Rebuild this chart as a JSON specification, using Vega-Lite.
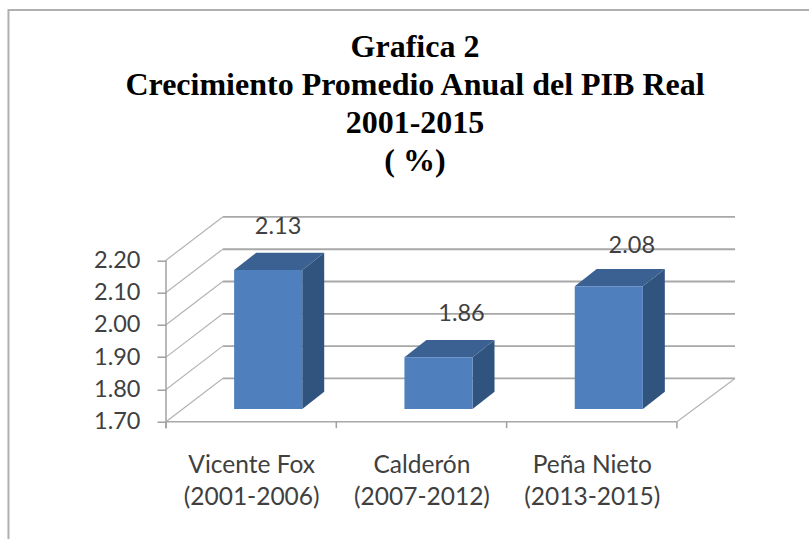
{
"$schema":"https://vega.github.io/schema/vega-lite/v6.json",
"width":569,"height":206,
"autosize":"none",
"padding":{"left":166,"top":215.7,"right":74,"bottom":117.3},
"background":"white",
"view":{"stroke":null},
"resolve":{"axis":{"x":"independent","y":"independent"}},
"title":{"text":["Grafica 2","Crecimiento Promedio Anual del PIB Real","2001-2015","( %)"],"font":"Liberation Serif","fontSize":32,"fontWeight":"bold","color":"#000000","lineHeight":38,"anchor":"middle","frame":"group","dx":-35.5,"offset":-201,"baseline":"bottom"},
"datasets":{
"bars":[{"periodo":"Vicente Fox","rango":"(2001-2006)","idx":0,"valor":2.13},{"periodo":"Calderón","rango":"(2007-2012)","idx":1,"valor":1.86},{"periodo":"Peña Nieto","rango":"(2013-2015)","idx":2,"valor":2.08}],
"grid":[{"valor":1.7},{"valor":1.8},{"valor":1.9},{"valor":2.0},{"valor":2.1},{"valor":2.2}],
"cortes":[{"pos":0},{"pos":1},{"pos":2},{"pos":3}]
},
"layer":[
{"data":{"name":"grid"},"transform":[{"filter":"datum.valor==1.7"}],
 "mark":{"type":"rect","fill":null,"filled":false,"stroke":"#B0B0B0","strokeWidth":2},
 "encoding":{"x":{"datum":-0.925,"type":"quantitative","scale":{"domain":[0,3.341],"nice":false,"zero":false},"axis":null},"x2":{"datum":4.2},
  "y":{"datum":1.2,"type":"quantitative","scale":{"domain":[1.7,2.3378],"nice":false,"zero":false},"axis":null},"y2":{"datum":2.975}}},
{"data":{"name":"grid"},"transform":[{"calculate":"datum.valor+0.134","as":"atras"}],
 "mark":{"type":"rule","color":"#A8A8A8","strokeWidth":1.8},
 "encoding":{"x":{"datum":0.333,"type":"quantitative","scale":{"domain":[0,3.341],"nice":false,"zero":false},
   "axis":{"title":null,"values":[0.5,1.5,2.5],"ticks":false,"domain":false,"grid":false,"labelExpr":"datum.value==0.5?['Vicente Fox','(2001-2006)']:datum.value==1.5?['Calderón','(2007-2012)']:['Peña Nieto','(2013-2015)']","labelFont":"Lato","labelFontSize":24.5,"labelLineHeight":32,"labelColor":"#404040","labelPadding":32,"labelOverlap":false,"labelFlush":false,"labelBound":false,"labelAngle":0}},
  "x2":{"datum":3.341},
  "y":{"field":"atras","type":"quantitative","scale":{"domain":[1.7,2.3378],"nice":false,"zero":false},
   "axis":{"title":null,"values":[1.7,1.8,1.9,2.0,2.1,2.2],"format":".2f","domain":false,"grid":false,"tickSize":9,"tickColor":"#A0A0A0","tickWidth":1.5,"labelFont":"Lato","labelFontSize":23.5,"labelColor":"#404040","labelPadding":17,"labelOverlap":false,"labelFlush":false,"labelBound":false}}}},
{"data":{"name":"grid"},"transform":[{"calculate":"datum.valor+0.134","as":"atras"}],
 "mark":{"type":"rule","color":"#B4B4B4","strokeWidth":1.2},
 "encoding":{"x":{"datum":0,"type":"quantitative","scale":{"domain":[0,3.341],"nice":false,"zero":false},"axis":null},"x2":{"datum":0.333},
  "y":{"field":"valor","type":"quantitative","scale":{"domain":[1.7,2.3378],"nice":false,"zero":false},"axis":null},"y2":{"field":"atras"}}},
{"data":{"name":"grid"},"transform":[{"filter":"datum.valor==1.7"},{"calculate":"datum.valor+0.134","as":"atras"}],
 "mark":{"type":"rule","color":"#B4B4B4","strokeWidth":1.2},
 "encoding":{"x":{"datum":3,"type":"quantitative","scale":{"domain":[0,3.341],"nice":false,"zero":false},"axis":null},"x2":{"datum":3.341},
  "y":{"field":"valor","type":"quantitative","scale":{"domain":[1.7,2.3378],"nice":false,"zero":false},"axis":null},"y2":{"field":"atras"}}},
{"data":{"name":"grid"},"transform":[{"filter":"datum.valor==1.7"}],
 "mark":{"type":"rule","color":"#A8A8A8","strokeWidth":1.5},
 "encoding":{"x":{"datum":0,"type":"quantitative","scale":{"domain":[0,3.341],"nice":false,"zero":false},"axis":null},"x2":{"datum":3},
  "y":{"field":"valor","type":"quantitative","scale":{"domain":[1.7,2.3378],"nice":false,"zero":false},"axis":null}}},
{"data":{"name":"grid"},"transform":[{"filter":"datum.valor==1.7"}],
 "mark":{"type":"rule","color":"#A0A0A0","strokeWidth":1.5},
 "encoding":{"x":{"datum":0,"type":"quantitative","scale":{"domain":[0,3.341],"nice":false,"zero":false},"axis":null},
  "y":{"datum":1.68,"type":"quantitative","scale":{"domain":[1.7,2.3378],"nice":false,"zero":false},"axis":null},"y2":{"datum":2.2}}},
{"data":{"name":"cortes"},
 "mark":{"type":"rule","color":"#A0A0A0","strokeWidth":1.5},
 "encoding":{"x":{"field":"pos","type":"quantitative","scale":{"domain":[0,3.341],"nice":false,"zero":false},"axis":null},
  "y":{"datum":1.68,"type":"quantitative","scale":{"domain":[1.7,2.3378],"nice":false,"zero":false},"axis":null},"y2":{"datum":1.7}}},
{"data":{"name":"bars"},"transform":[{"calculate":"[0,1]","as":"t"},{"flatten":["t"]},{"calculate":"datum.idx+0.8+datum.t*0.129","as":"px"},{"calculate":"datum.valor+0.0393+datum.t*0.0536","as":"py"},{"calculate":"1.7393+datum.t*0.0536","as":"py0"}],
 "mark":{"type":"area","color":"#30547E","orient":"vertical"},
 "encoding":{"x":{"field":"px","type":"quantitative","scale":{"domain":[0,3.341],"nice":false,"zero":false},"axis":null},
  "y":{"field":"py","type":"quantitative","scale":{"domain":[1.7,2.3378],"nice":false,"zero":false},"axis":null},"y2":{"field":"py0"},"detail":{"field":"idx"}}},
{"data":{"name":"bars"},"transform":[{"calculate":"[0,1]","as":"t"},{"flatten":["t"]},{"calculate":"datum.idx+0.4+datum.t*0.129","as":"px"},{"calculate":"datum.idx+0.8+datum.t*0.129","as":"px2"},{"calculate":"datum.valor+0.0393+datum.t*0.0536","as":"py"}],
 "mark":{"type":"area","color":"#3B6192","orient":"horizontal"},
 "encoding":{"y":{"field":"py","type":"quantitative","scale":{"domain":[1.7,2.3378],"nice":false,"zero":false},"axis":null},
  "x":{"field":"px","type":"quantitative","scale":{"domain":[0,3.341],"nice":false,"zero":false},"axis":null},"x2":{"field":"px2"},"detail":{"field":"idx"}}},
{"data":{"name":"bars"},"transform":[{"calculate":"datum.idx+0.4","as":"px"},{"calculate":"datum.idx+0.8","as":"px2"},{"calculate":"datum.valor+0.0393","as":"py"}],
 "mark":{"type":"rect","color":"#4F80BD"},
 "encoding":{"x":{"field":"px","type":"quantitative","scale":{"domain":[0,3.341],"nice":false,"zero":false},"axis":null},"x2":{"field":"px2"},
  "y":{"field":"py","type":"quantitative","scale":{"domain":[1.7,2.3378],"nice":false,"zero":false},"axis":null},"y2":{"datum":1.7393}}},
{"data":{"name":"bars"},"transform":[{"calculate":"datum.idx+(datum.idx==0?0.658:0.735)","as":"px"},{"calculate":"datum.valor+0.0929-(datum.idx==2?0.009:0)","as":"py"}],
 "mark":{"type":"text","font":"Lato","fontSize":23.5,"color":"#404040","dy":-26,"baseline":"middle","align":"center"},
 "encoding":{"x":{"field":"px","type":"quantitative","scale":{"domain":[0,3.341],"nice":false,"zero":false},"axis":null},
  "y":{"field":"py","type":"quantitative","scale":{"domain":[1.7,2.3378],"nice":false,"zero":false},"axis":null},
  "text":{"field":"valor","type":"quantitative","format":".2f"}}}
]
}
